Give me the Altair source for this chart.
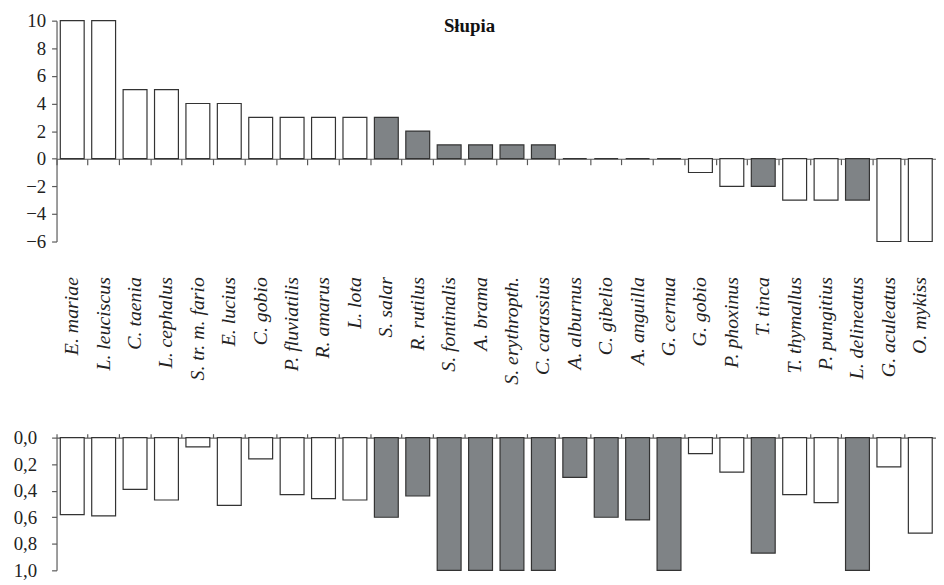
import altair as alt
import pandas as pd

species = ["E. mariae", "L. leuciscus", "C. taenia", "L. cephalus", "S. tr. m. fario",
           "E. lucius", "C. gobio", "P. fluviatilis", "R. amarus", "L. lota",
           "S. salar", "R. rutilus", "S. fontinalis", "A. brama", "S. erythropth.",
           "C. carassius", "A. alburnus", "C. gibelio", "A. anguilla", "G. cernua",
           "G. gobio", "P. phoxinus", "T. tinca", "T. thymallus", "P. pungitius",
           "L. delineatus", "G. aculeatus", "O. mykiss"]
score = [10, 10, 5, 5, 4, 4, 3, 3, 3, 3, 3, 2, 1, 1, 1, 1, 0, 0, 0, 0,
         -1, -2, -2, -3, -3, -3, -6, -6]
index = [0.58, 0.59, 0.39, 0.47, 0.07, 0.51, 0.16, 0.43, 0.46, 0.47,
         0.60, 0.44, 1.0, 1.0, 1.0, 1.0, 0.30, 0.60, 0.62, 1.0,
         0.12, 0.26, 0.87, 0.43, 0.49, 1.0, 0.22, 0.72]
group = (["native"] * 10 + ["alien"] * 10 +
         ["native", "native", "alien", "native", "native", "alien", "native", "native"])
top_ticks = [-6, -4, -2, 0, 2, 4, 6, 8, 10]
bottom_ticks = [0.0, 0.2, 0.4, 0.6, 0.8, 1.0]

df = pd.DataFrame({"species": species, "score": score, "index": index, "group": group})

FONT = "'Liberation Serif', 'Times New Roman', Times, serif"
AXC = "#5a5a5a"
TXT = "#222222"

color = alt.Color("group:N",
                  scale=alt.Scale(domain=["native", "alien"], range=["#ffffff", "#7f8386"]),
                  legend=None)
xscale = alt.Scale(paddingInner=0, paddingOuter=0)
bar = dict(width=alt.RelativeBandSize(0.76), stroke="#333333", strokeWidth=1.2)

W = 888

top = alt.Chart(df).mark_bar(**bar).encode(
    x=alt.X("species:N", sort=species, scale=xscale,
            axis=alt.Axis(title=None, orient="bottom", offset=-83.6, bandPosition=0,
                          tickSize=6, tickColor=AXC, domainColor=AXC, domainWidth=1.2, tickWidth=1.2,
                          labelAngle=270, labelAlign="right", labelBaseline="middle",
                          labelPadding=113, labelFont=FONT,
                          labelFontStyle="italic", labelFontSize=20, labelColor=TXT,
                          labelOverlap=False)),
    y=alt.Y("score:Q", scale=alt.Scale(domain=[-6, 10], nice=False, zero=False),
            axis=alt.Axis(title=None, values=top_ticks, tickSize=5, labelPadding=6,
                          tickColor=AXC, domainColor=AXC, domainWidth=1.2, tickWidth=1.2,
                          labelFont=FONT, labelFontSize=19, labelColor=TXT)),
    color=color,
).properties(
    width=W, height=223,
    title=alt.Title("Słupia", font=FONT, fontSize=19, fontWeight="bold", color="#111111",
                    anchor="middle", frame="group", offset=-24, dx=-27),
)

bottom = alt.Chart(df).mark_bar(**bar).encode(
    x=alt.X("species:N", sort=species, scale=xscale,
            axis=alt.Axis(title=None, orient="top", bandPosition=0, labels=False,
                          tickSize=4, tickColor=AXC, domainColor=AXC, domainWidth=1.2, tickWidth=1.2)),
    y=alt.Y("index:Q", scale=alt.Scale(domain=[0, 1], reverse=True, nice=False),
            axis=alt.Axis(title=None, values=bottom_ticks, tickSize=5, labelPadding=15,
                          labelExpr="replace(format(datum.value, '.1f'), '.', ',')",
                          tickColor=AXC, domainColor=AXC, domainWidth=1.2, tickWidth=1.2,
                          labelFont=FONT, labelFontSize=19, labelColor=TXT)),
    color=color,
).properties(width=W, height=134)

chart = alt.vconcat(top, bottom, spacing=44).properties(
    padding={"left": 5, "top": 1, "right": 0, "bottom": 0}
).configure_view(stroke=None).configure_axis(grid=False)

chart.save("out.html", embed_options={"renderer": "svg", "actions": False})
